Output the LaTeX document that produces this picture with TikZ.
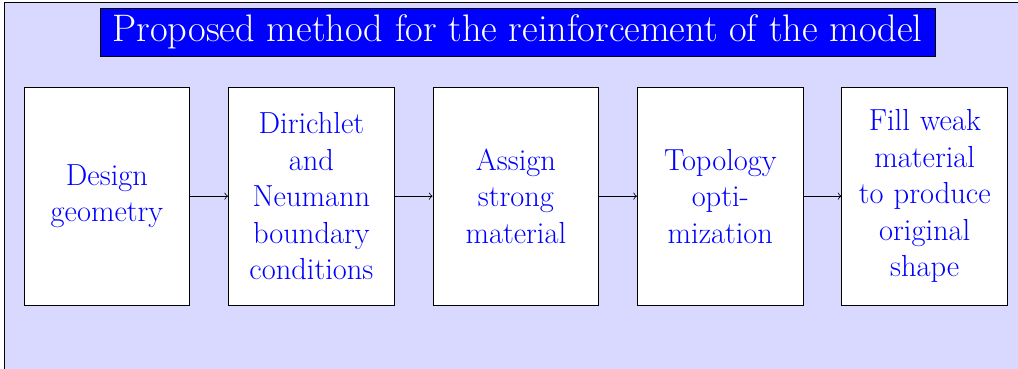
\documentclass[tikz,border=0pt]{standalone}
\usepackage{fontspec}
\usepackage{tikz}
\usetikzlibrary{calc,positioning}
\usepackage{xcolor}

\tikzset{
  stage/.style={draw=black, fill=white, text=blue, font=\fontsize{15.15}{18.2}\selectfont, align=center,
    text width=2.65cm, minimum width=2.9cm, minimum height=3.81cm},
  banner/.style={draw=black, fill=blue, text=white, font=\fontsize{19.1}{23}\selectfont, inner sep=0pt,
    minimum width=14.6cm, minimum height=0.84cm}
}

\begin{document}
\begin{tikzpicture}
\useasboundingbox (0,0) rectangle (17.80,-6.45);

% Background panel
\draw[fill=blue!15] (0.07,-0.05) rectangle (18.5,-7);

% Title
\node[banner] (title) at (9.05,-0.56) {Proposed method for the reinforcement of the model};

% Draw the 5 stages at fixed positions
\foreach \i/\x/\txt in {1/1.87/Design geometry, 2/5.445/Dirichlet and Neumann boundary conditions, 3/9.02/Assign strong material, 4/12.595/Topology optimization, 5/16.17/Fill weak material to produce original shape} {
    \node[stage] (s\i) at (\x,-3.43) {\txt};
}

% Connect consecutive stages
\foreach \i/\j in {1/2, 2/3, 3/4, 4/5} {
    \draw[->] (s\i) -- (s\j);
}
\end{tikzpicture}
\end{document}
